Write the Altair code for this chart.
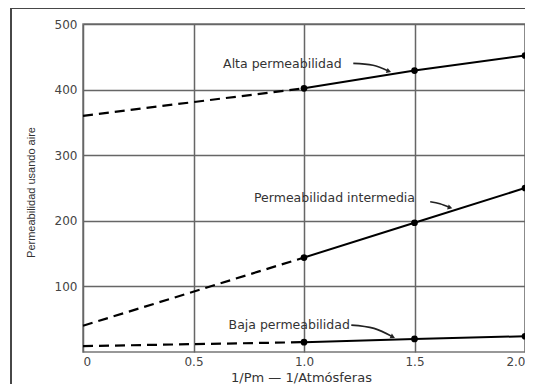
import altair as alt
import pandas as pd

# ---- data ----
x_solid = [1.0, 1.5, 2.0]
alta = [402, 429, 452]
intermedia = [144, 197, 250]
baja = [15, 20, 24]

x_dash = [0.0, 1.0]
alta_dash = [360, 402]
intermedia_dash = [40, 144]
baja_dash = [9, 15]

series = ["Alta", "Intermedia", "Baja"]

x_ticks = [0, 0.5, 1.0, 1.5, 2.0]
y_ticks = [100, 200, 300, 400, 500]

labels = ["Alta permeabilidad", "Permeabilidad intermedia", "Baja permeabilidad"]
label_x = [0.902, 1.138, 0.933]
label_y = [439, 235, 41]

# annotation arrows (three points each: start, bend, tip)
arrow_x = [[1.223, 1.3125, 1.384], [1.571, 1.615, 1.661], [1.214, 1.317, 1.402]]
arrow_y = [[440, 437, 428], [229, 226, 220], [41, 36, 23]]
arrow_angle = [20, 17, 25]

# ---- tables ----
solid_rows = []
for name, vals in zip(series, [alta, intermedia, baja]):
    for xv, yv in zip(x_solid, vals):
        solid_rows.append({"s": name, "x": xv, "y": yv})
solid = pd.DataFrame(solid_rows)

dash_rows = []
for name, vals in zip(series, [alta_dash, intermedia_dash, baja_dash]):
    for xv, yv in zip(x_dash, vals):
        dash_rows.append({"s": name, "x": xv, "y": yv})
dash = pd.DataFrame(dash_rows)

lab = pd.DataFrame({"t": labels, "x": label_x, "y": label_y})

arr_rows = []
head_rows = []
for i, (xs_, ys_) in enumerate(zip(arrow_x, arrow_y)):
    for j, (xv, yv) in enumerate(zip(xs_, ys_)):
        arr_rows.append({"a": i, "o": j, "x": xv, "y": yv})
    head_rows.append({"a": i, "x": xs_[-1], "y": ys_[-1], "ang": arrow_angle[i]})
arr = pd.DataFrame(arr_rows)
heads = pd.DataFrame(head_rows)

label_expr = "datum.value == 0 ? '0' : format(datum.value, '.1f')"

xs = alt.X(
    "x:Q",
    scale=alt.Scale(domain=[0, 2.0], nice=False, zero=False),
    axis=alt.Axis(
        values=x_ticks,
        labelExpr=label_expr,
        title="1/Pm — 1/Atmósferas",
        titleX=218,
        titleY=25,
        titleBaseline="middle",
        titleFont="DejaVu Sans",
        titleFontSize=13,
        titleFontWeight="normal",
        titleColor="#333",
        labelFont="DejaVu Sans",
        labelFontSize=12,
        labelColor="#444",
        labelPadding=4,
        tickSize=0,
        domain=False,
        grid=True,
        gridColor="#666",
        gridWidth=1.5,
    ),
)
ys = alt.Y(
    "y:Q",
    scale=alt.Scale(domain=[0, 500], nice=False),
    axis=alt.Axis(
        values=y_ticks,
        title="Permeabilidad usando aire",
        titleX=-52,
        titleY=168,
        titleBaseline="middle",
        titleFont="Liberation Sans",
        titleFontSize=11,
        titleFontWeight="normal",
        titleColor="#333",
        labelFont="DejaVu Sans",
        labelFontSize=12,
        labelColor="#444",
        labelPadding=6,
        tickSize=0,
        domain=False,
        grid=True,
        gridColor="#666",
        gridWidth=1.5,
    ),
)

base_s = alt.Chart(solid)

dashed = alt.Chart(dash).mark_line(
    color="black", strokeWidth=2.2, strokeDash=[10, 6]
).encode(x=xs, y=ys, detail="s:N")

solid_lines = base_s.mark_line(color="black", strokeWidth=2).encode(
    x=xs, y=ys, detail="s:N"
)
points = base_s.mark_point(
    filled=True, color="black", size=45, opacity=1
).encode(x=xs, y=ys)

texts = alt.Chart(lab).mark_text(
    font="DejaVu Sans", fontSize=12.5, color="#333", align="center", baseline="middle"
).encode(x=xs, y=ys, text="t:N")

arrows = alt.Chart(arr).mark_line(
    color="#222", strokeWidth=1.6, interpolate="monotone"
).encode(x=xs, y=ys, detail="a:N", order="o:Q")

arrow_heads = alt.Chart(heads).mark_point(
    shape="triangle-right", filled=True, color="#222", size=28, opacity=1
).encode(x=xs, y=ys, angle=alt.Angle("ang:Q", scale=None))

# outer picture frame (decoration only)
frame_left = alt.Chart(lab).mark_rule(color="#444", strokeWidth=1.5, clip=False).encode(
    x=alt.value(-72), y=alt.value(-16), y2=alt.value(400)
)
frame_top = alt.Chart(lab).mark_rule(color="#444", strokeWidth=1.5, clip=False).encode(
    x=alt.value(-72), x2=alt.value(520), y=alt.value(-16)
)

chart = alt.layer(
    dashed, solid_lines, points, texts, arrows, arrow_heads, frame_left, frame_top
).properties(
    width=442,
    height=328,
    autosize=alt.AutoSizeParams(type="none"),
    padding={"left": 75, "top": 16, "right": 0, "bottom": 32},
    background="white",
).configure_view(
    stroke="#777", strokeWidth=1.5
)

chart.save("out.html", embed_options={"renderer": "svg", "actions": False})
